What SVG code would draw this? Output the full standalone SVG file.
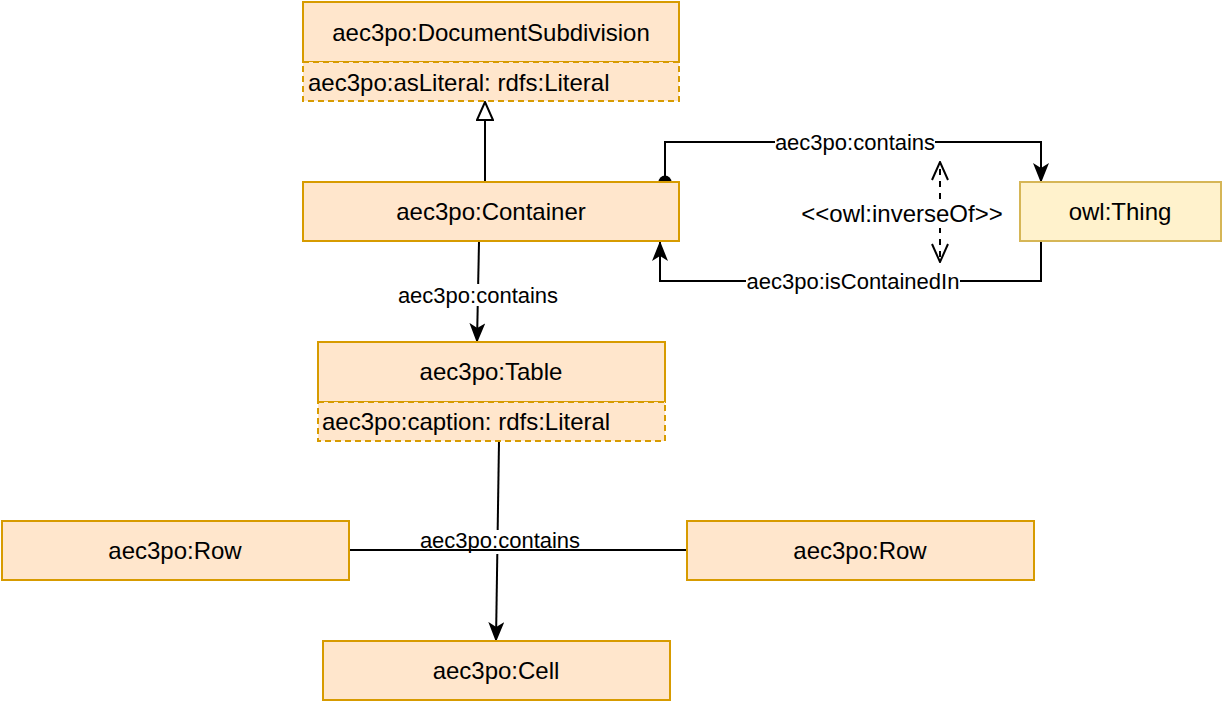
<svg xmlns="http://www.w3.org/2000/svg" width="1225" height="705" viewBox="0 0 1225 705">
<defs>
<style>
.n{fill:#ffe6cc;stroke:#d79b00;stroke-width:2}
.a{fill:#ffe6cc;stroke:#d79b00;stroke-width:2;stroke-dasharray:6 4}
.t{fill:#fff2cc;stroke:#d6b656;stroke-width:2}
.l{font-family:"Liberation Sans",Arial,sans-serif;font-size:24px;fill:#000;text-anchor:middle}
.la{font-family:"Liberation Sans",Arial,sans-serif;font-size:24px;fill:#000}
.el{font-family:"Liberation Sans",Arial,sans-serif;font-size:22px;fill:#000;text-anchor:middle}
.e{fill:none;stroke:#000;stroke-width:2}
.d{fill:none;stroke:#000;stroke-width:2;stroke-dasharray:6 6}
</style>
<marker id="arr" markerUnits="userSpaceOnUse" viewBox="0 0 20 16" markerWidth="20" markerHeight="16" refX="19" refY="8" orient="auto">
<path d="M0,0 L20,8 L0,16 L5,8 Z" fill="#000"/>
</marker>
<marker id="tri" markerUnits="userSpaceOnUse" viewBox="0 0 20 18" markerWidth="20" markerHeight="18" refX="19" refY="9" orient="auto">
<path d="M1,1 L19,9 L1,17 Z" fill="#fff" stroke="#000" stroke-width="2"/>
</marker>
<marker id="open" markerUnits="userSpaceOnUse" viewBox="0 0 20 18" markerWidth="20" markerHeight="18" refX="19" refY="9" orient="auto">
<path d="M1,1 L19,9 L1,17" fill="none" stroke="#000" stroke-width="2"/>
</marker>
</defs>
<g id="connectors">
<path class="e" d="M485,182 L485,102" marker-end="url(#tri)"/>
<circle cx="665" cy="182" r="6.5" fill="#000"/>
<path class="e" d="M665,182 L665,142 L1041,142 L1041,182" marker-end="url(#arr)"/>
<rect x="775" y="131" width="160" height="22" fill="#fff"/>
<text class="el" x="855" y="150">aec3po:contains</text>
<path class="e" d="M1041,241 L1041,281 L660,281 L660,242" marker-end="url(#arr)"/>
<rect x="746" y="270" width="214" height="22" fill="#fff"/>
<text class="el" x="853" y="289">aec3po:isContainedIn</text>
<path class="d" d="M940,211 L940,162" marker-end="url(#open)"/>
<path class="d" d="M940,215 L940,262" marker-end="url(#open)"/>
<rect x="800" y="200" width="206" height="28" fill="#fff"/>
<text class="l" x="902" y="222">&lt;&lt;owl:inverseOf&gt;&gt;</text>
<path class="e" d="M479,242 L477,342" marker-end="url(#arr)"/>
<rect x="398" y="284" width="160" height="22" fill="#fff"/>
<text class="el" x="478" y="303">aec3po:contains</text>
<path class="e" d="M499,441 L496,641" marker-end="url(#arr)"/>
<rect x="420" y="530" width="160" height="24" fill="#fff"/>
<text class="el" x="500" y="548">aec3po:contains</text>
<path class="e" d="M349,550 L687,550"/>
</g>
<g id="DocumentSubdivision">
<rect class="n" x="303" y="2" width="376" height="60"/>
<text class="l" x="491" y="41">aec3po:DocumentSubdivision</text>
<rect class="a" x="303" y="62" width="376" height="39"/>
<text class="la" x="308" y="91">aec3po:asLiteral: rdfs:Literal</text>
</g>
<g id="Container">
<rect class="n" x="303" y="182" width="376" height="59"/>
<text class="l" x="491" y="220">aec3po:Container</text>
</g>
<g id="Thing">
<rect class="t" x="1020" y="182" width="201" height="59"/>
<text class="l" x="1120" y="220">owl:Thing</text>
</g>
<g id="Table">
<rect class="n" x="318" y="342" width="347" height="60"/>
<text class="l" x="491" y="380">aec3po:Table</text>
<rect class="a" x="318" y="402" width="347" height="39"/>
<text class="la" x="322" y="430">aec3po:caption: rdfs:Literal</text>
</g>
<g id="RowLeft">
<rect class="n" x="2" y="521" width="347" height="59"/>
<text class="l" x="175" y="559">aec3po:Row</text>
</g>
<g id="RowRight">
<rect class="n" x="687" y="521" width="347" height="59"/>
<text class="l" x="860" y="559">aec3po:Row</text>
</g>
<g id="Cell">
<rect class="n" x="323" y="641" width="347" height="59"/>
<text class="l" x="496" y="679">aec3po:Cell</text>
</g>
</svg>
